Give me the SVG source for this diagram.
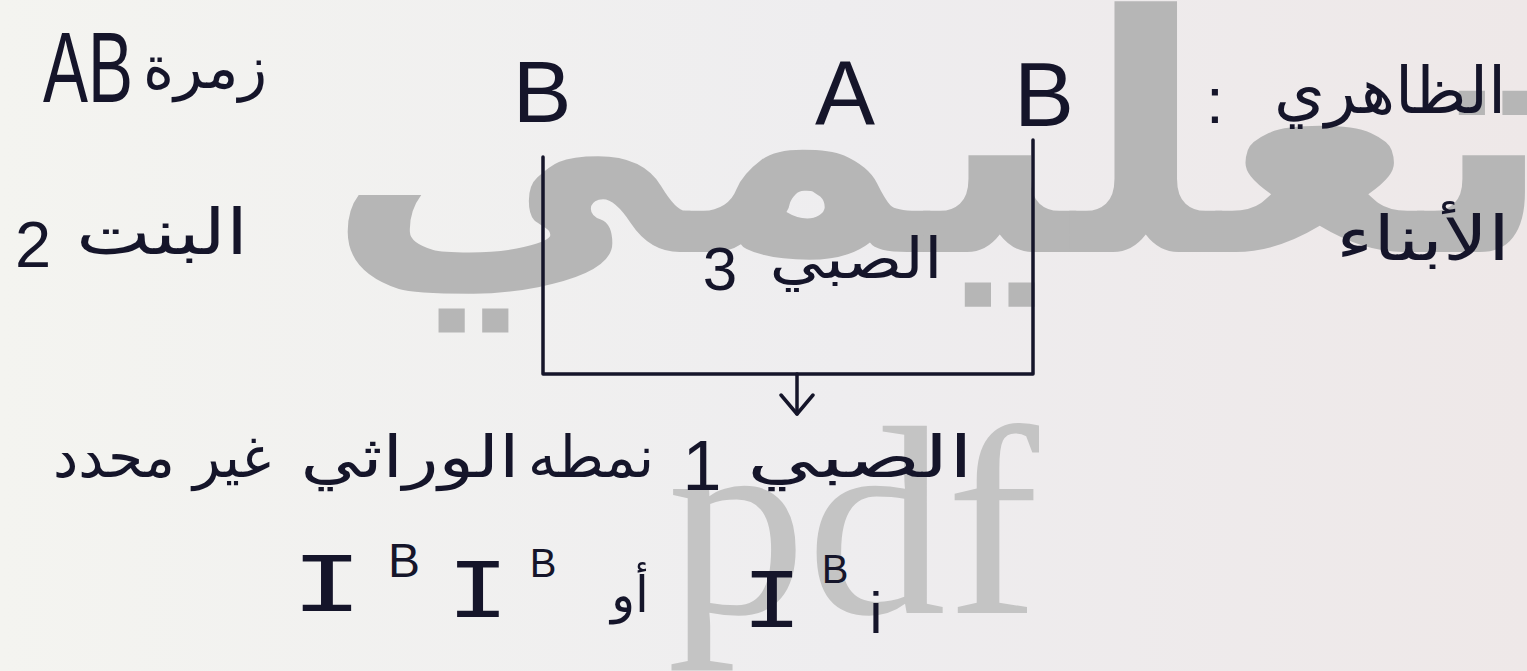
<svg xmlns="http://www.w3.org/2000/svg" width="1527" height="671" viewBox="0 0 1527 671">
  <defs>
    <linearGradient id="bg" x1="0" y1="0" x2="1" y2="0">
      <stop offset="0" stop-color="#f4f4f0"/>
      <stop offset="0.55" stop-color="#eeedef"/>
      <stop offset="1" stop-color="#eee8e8"/>
    </linearGradient>
    <marker id="arr" viewBox="0 0 24 36" refX="22" refY="18" markerWidth="24" markerHeight="36" markerUnits="userSpaceOnUse" orient="auto">
      <path d="M3 2 L22 18 L3 34" fill="none" stroke="#15152a" stroke-width="3.5" stroke-linecap="round" stroke-linejoin="round"/>
    </marker>
    <style>
      .ar { font-family: "DejaVu Sans", sans-serif; fill: #15152a; text-anchor: middle; direction: rtl; }
      .lat { font-family: "Liberation Sans", "DejaVu Sans", sans-serif; fill: #15152a; text-anchor: middle; }
      .gene { font-family: "DejaVu Sans Mono", monospace; fill: #15152a; text-anchor: middle; }
      .wm { font-family: "DejaVu Sans", sans-serif; font-weight: bold; fill: #b6b6b6; text-anchor: middle; direction: rtl; }
      .wm2 { font-family: "Liberation Serif", serif; fill: #c4c4c4; }
      .line { fill: none; stroke: #15152a; stroke-width: 3.5; stroke-linecap: round; stroke-linejoin: round; }
    </style>
  </defs>

  <rect id="background" x="0" y="0" width="1527" height="671" fill="url(#bg)"/>

  <g id="watermark">
    <text class="wm" x="940" y="252" font-size="330" textLength="1230" lengthAdjust="spacingAndGlyphs">تعليمي</text>
    <text class="wm2" x="667" y="613" font-size="270" textLength="372" lengthAdjust="spacingAndGlyphs">pdf</text>
  </g>

  <g id="connectors">
    <path class="line" d="M543 157 L543 374 L1033 374 L1033 140"/>
    <path class="line" d="M797 374 L797 414" marker-end="url(#arr)"/>
  </g>

  <g id="label-blood-group">
    <text class="lat" x="88" y="102" font-size="100" textLength="90" lengthAdjust="spacingAndGlyphs">AB</text>
    <text class="ar" x="205" y="88" font-size="60" textLength="124" lengthAdjust="spacingAndGlyphs">زمرة</text>
  </g>

  <g id="label-girl">
    <text class="ar" x="162" y="254" font-size="63" textLength="172" lengthAdjust="spacingAndGlyphs">البنت</text>
    <text class="lat" x="33" y="267" font-size="65">2</text>
  </g>

  <g id="label-phenotype">
    <text class="ar" x="1390" y="113" font-size="64" textLength="232" lengthAdjust="spacingAndGlyphs">الظاهري</text>
    <text class="lat" x="1215" y="123" font-size="64">:</text>
  </g>

  <g id="label-children">
    <text class="ar" x="1423" y="260" font-size="62" textLength="174" lengthAdjust="spacingAndGlyphs">الأبناء</text>
  </g>

  <g id="node-B-left">
    <text class="lat" x="542" y="122" font-size="88">B</text>
  </g>
  <g id="node-A">
    <text class="lat" x="845" y="124" font-size="90">A</text>
  </g>
  <g id="node-B-right">
    <text class="lat" x="1044" y="126" font-size="90">B</text>
  </g>

  <g id="node-boy3">
    <text class="ar" x="856" y="278" font-size="56" textLength="173" lengthAdjust="spacingAndGlyphs">الصبي</text>
    <text class="lat" x="720" y="290" font-size="62">3</text>
  </g>

  <g id="node-boy1">
    <text class="ar" x="860" y="477" font-size="58" textLength="226" lengthAdjust="spacingAndGlyphs">الصبي</text>
    <text class="lat" x="702" y="490" font-size="70">1</text>
    <text class="ar" x="591" y="477" font-size="58" textLength="126" lengthAdjust="spacingAndGlyphs">نمطه</text>
    <text class="ar" x="410" y="477" font-size="58" textLength="219" lengthAdjust="spacingAndGlyphs">الوراثي</text>
    <text class="ar" x="162" y="477" font-size="58" textLength="218" lengthAdjust="spacingAndGlyphs">غير محدد</text>
  </g>

  <g id="node-genotypes">
    <text class="gene" x="327" y="611" font-size="76" textLength="72" lengthAdjust="spacingAndGlyphs">I</text>
    <text class="lat" x="404" y="577" font-size="48">B</text>
    <text class="gene" x="478" y="617" font-size="76" textLength="62" lengthAdjust="spacingAndGlyphs">I</text>
    <text class="lat" x="543" y="577" font-size="40">B</text>
    <text class="ar" x="630" y="612" font-size="50">أو</text>
    <text class="gene" x="772" y="627" font-size="76" textLength="60" lengthAdjust="spacingAndGlyphs">I</text>
    <text class="lat" x="835" y="583" font-size="40">B</text>
    <text class="lat" x="876" y="633" font-size="58">i</text>
  </g>
</svg>
